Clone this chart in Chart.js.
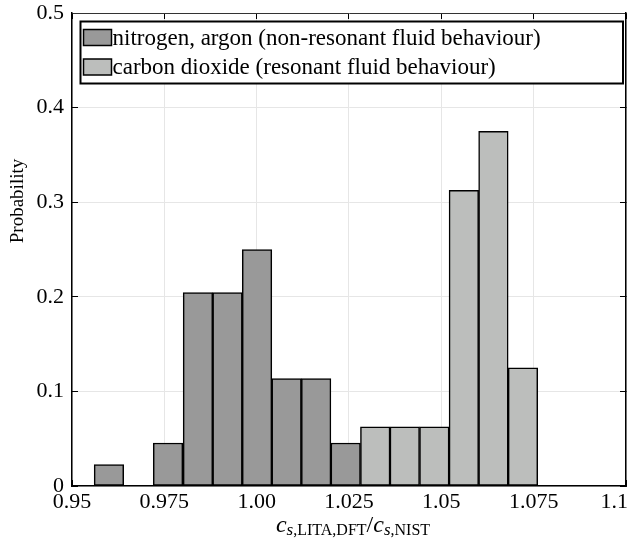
<!DOCTYPE html>
<html>
<head>
<meta charset="utf-8">
<script src="https://cdn.jsdelivr.net/npm/chart.js@4.4.0/dist/chart.umd.min.js"></script>
<style>
  html, body { margin: 0; padding: 0; background: #fff; }
  #wrap { width: 630px; height: 539px; }
</style>
</head>
<body>
<div id="wrap"><canvas id="histChart" width="630" height="539"></canvas></div>
<script>
// bin centres (bin width ~0.008)
const binCenters = [0.9600, 0.9680, 0.9760, 0.9841, 0.9921, 1.0001, 1.0081, 1.0161, 1.0241,
  1.0321, 1.0401, 1.0481, 1.0561, 1.0641, 1.0721, 1.0802, 1.0882, 1.0962];
const nitrogenArgon = [0.0227, 0, 0.0455, 0.2045, 0.2045, 0.25, 0.1136, 0.1136, 0.0455];
const carbonDioxide = [0.0625, 0.0625, 0.0625, 0.3125, 0.375, 0.125, 0, 0, 0];
const seriesLabels = ["nitrogen, argon (non-resonant fluid behaviour)", "carbon dioxide (resonant fluid behaviour)"];
const xTicks = [0.95, 0.975, 1.0, 1.025, 1.05, 1.075, 1.1];
const xTickLabels = ["0.95", "0.975", "1.00", "1.025", "1.05", "1.075", "1.1"];
const yTicks = [0, 0.1, 0.2, 0.3, 0.4, 0.5];
const yTickLabels = ["0", "0.1", "0.2", "0.3", "0.4", "0.5"];
const yTitle = "Probability";

const FONT = "'Liberation Serif', 'Times New Roman', serif";
Chart.defaults.font.family = FONT;
Chart.defaults.color = "#000";

const n2Points = nitrogenArgon.map((y, i) => ({ x: binCenters[i], y }));
const co2Points = carbonDioxide.map((y, i) => ({ x: binCenters[i + nitrogenArgon.length], y }));

const setXTicks = s => { s.ticks = xTicks.map(v => ({ value: v })); };
const setYTicks = s => { s.ticks = yTicks.map(v => ({ value: v })); };
// fixed axis sizes, no extra room for overhanging labels
const fixSize = (w, h) => s => {
  if (w !== null) s.width = w;
  if (h !== null) s.height = h;
  s.paddingLeft = s.paddingRight = s.paddingTop = s.paddingBottom = 0;
};

// keep the last x label inside the canvas
const edgeLabel = {
  id: "edgeLabel",
  beforeDraw(chart) {
    const items = chart.scales.x.getLabelItems(chart.chartArea);
    const last = items[items.length - 1];
    if (last) {
      last.options.textAlign = "right";
      last.options.translation[0] += 2;
    }
  }
};

// legend box with frame, inside the plot
const boxLegend = {
  id: "boxLegend",
  afterDatasetsDraw(chart) {
    const { ctx, chartArea } = chart;
    const x0 = chartArea.left + 8.5, y0 = chartArea.top + 8.5;
    const w = chartArea.right - 3 - x0, rowH = 29.5;
    const h = rowH * chart.data.datasets.length + 3;
    ctx.save();
    ctx.fillStyle = "#fff";
    ctx.fillRect(x0, y0, w, h);
    ctx.lineWidth = 2;
    ctx.strokeStyle = "#000";
    ctx.strokeRect(x0, y0, w, h);
    ctx.font = "23px " + FONT;
    ctx.textBaseline = "middle";
    chart.data.datasets.forEach((ds, i) => {
      const cy = y0 + 16 + i * rowH;
      ctx.fillStyle = ds.backgroundColor;
      ctx.fillRect(x0 + 3, cy - 8, 28, 16);
      ctx.lineWidth = 1.5;
      ctx.strokeRect(x0 + 3, cy - 8, 28, 16);
      ctx.fillStyle = "#000";
      ctx.fillText(ds.label, x0 + 32, cy + 1);
    });
    ctx.restore();
  }
};

// axis titles (x title has italic symbols and subscripts)
const axisTitles = {
  id: "axisTitles",
  afterDraw(chart) {
    const { ctx } = chart;
    ctx.save();
    ctx.fillStyle = "#000";
    ctx.translate(18, 201);
    ctx.rotate(-Math.PI / 2);
    ctx.font = "19px " + FONT;
    ctx.textAlign = "center";
    ctx.textBaseline = "middle";
    ctx.fillText(yTitle, 0, 0);
    ctx.restore();

    const parts = [
      { t: "c", f: "italic 24px " + FONT, dy: 0 },
      { t: "s", f: "italic 17px " + FONT, dy: 3 },
      { t: ",LITA,DFT", f: "16px " + FONT, dy: 3 },
      { t: "/", f: "24px " + FONT, dy: 0 },
      { t: "c", f: "italic 24px " + FONT, dy: 0 },
      { t: "s", f: "italic 17px " + FONT, dy: 3 },
      { t: ",NIST", f: "16px " + FONT, dy: 3 }
    ];
    ctx.save();
    ctx.fillStyle = "#000";
    ctx.textBaseline = "alphabetic";
    let total = 0;
    parts.forEach(p => { ctx.font = p.f; p.w = ctx.measureText(p.t).width; total += p.w; });
    let x = 353 - total / 2;
    const base = 532;
    parts.forEach(p => { ctx.font = p.f; ctx.fillText(p.t, x, base + p.dy); x += p.w; });
    ctx.restore();
  }
};

const gridColor = "#e6e6e6";

new Chart(document.getElementById("histChart"), {
  type: "bar",
  data: {
    datasets: [
      {
        label: seriesLabels[0],
        data: n2Points,
        backgroundColor: "#999999",
        borderColor: "#000",
        borderWidth: 1.5,
        borderSkipped: false
      },
      {
        label: seriesLabels[1],
        data: co2Points,
        backgroundColor: "#bcbebc",
        borderColor: "#000",
        borderWidth: 1.5,
        borderSkipped: false
      }
    ]
  },
  options: {
    responsive: false,
    animation: false,
    devicePixelRatio: 1,
    grouped: false,
    barPercentage: 1,
    categoryPercentage: 1,
    layout: { padding: 0 },
    plugins: {
      legend: { display: false },
      tooltip: { enabled: false }
    },
    scales: {
      x: {
        type: "linear",
        position: "bottom",
        offset: false,
        min: 0.95,
        max: 1.1,
        afterBuildTicks: setXTicks,
        afterFit: fixSize(null, 53),
        ticks: {
          callback: (v, i) => xTickLabels[i],
          font: { size: 22 },
          padding: 9,
          maxRotation: 0,
          autoSkip: false
        },
        grid: { offset: false, color: gridColor, tickColor: "#000", tickLength: -6 },
        border: { color: "#000", width: 1.5 }
      },
      x2: {
        type: "linear",
        position: "top",
        offset: false,
        min: 0.95,
        max: 1.1,
        afterBuildTicks: setXTicks,
        afterFit: fixSize(null, 13),
        ticks: { display: false },
        grid: { offset: false, drawOnChartArea: false, tickColor: "#000", tickLength: -6 },
        border: { color: "#333", width: 1 }
      },
      y: {
        type: "linear",
        position: "left",
        min: 0,
        max: 0.5,
        afterBuildTicks: setYTicks,
        afterFit: fixSize(72, null),
        ticks: {
          callback: (v, i) => yTickLabels[i],
          font: { size: 22 },
          padding: 14
        },
        grid: { color: gridColor, tickColor: "#000", tickLength: -6 },
        border: { color: "#000", width: 1.5 }
      },
      y2: {
        type: "linear",
        position: "right",
        min: 0,
        max: 0.5,
        afterBuildTicks: setYTicks,
        afterFit: fixSize(4, null),
        ticks: { display: false },
        grid: { drawOnChartArea: false, tickColor: "#000", tickLength: -6 },
        border: { color: "#000", width: 1.5 }
      }
    }
  },
  plugins: [edgeLabel, boxLegend, axisTitles]
});
</script>
</body>
</html>
